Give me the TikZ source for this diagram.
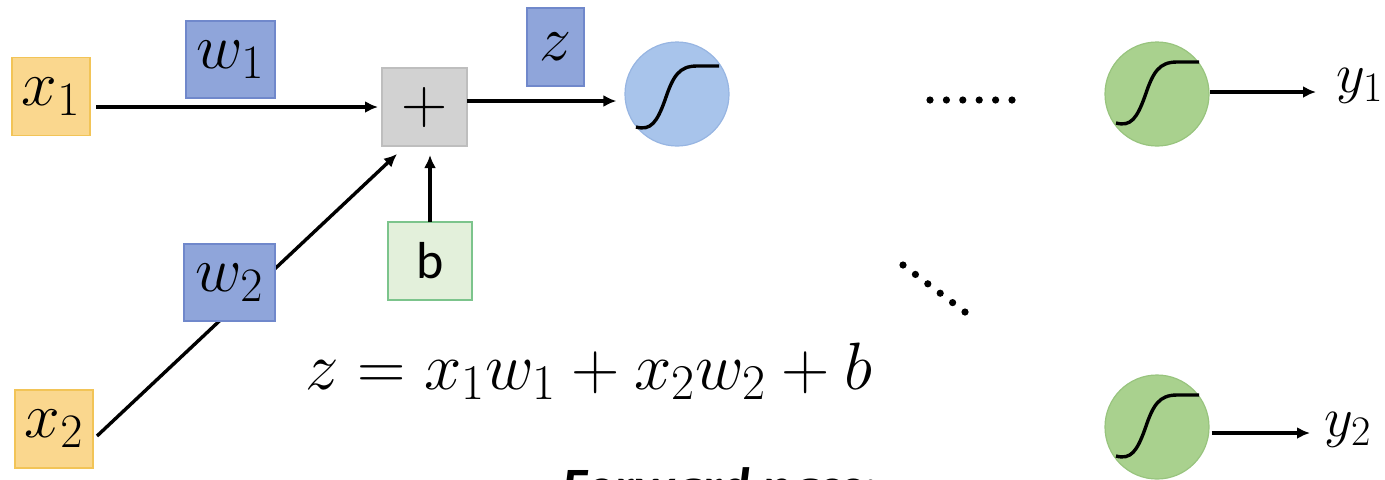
\RequirePackage{fix-cm}
\documentclass[tikz,border=0pt]{standalone}
\usepackage{fontspec}
\newfontfamily\carlito{Carlito}
\usetikzlibrary{arrows.meta,calc}
\DeclareMathSizes{32}{32}{24}{18}
\DeclareMathSizes{28}{28}{21}{16}
\DeclareMathSizes{33.5}{33.5}{25}{19}
\definecolor{xfill}{HTML}{FAD78E}
\definecolor{xborder}{HTML}{F2C457}
\definecolor{wfill}{HTML}{8FA5DA}
\definecolor{wborder}{HTML}{7088CB}
\definecolor{pfill}{HTML}{D2D2D2}
\definecolor{pborder}{HTML}{BEBEBE}
\definecolor{bfill}{HTML}{E3F0DB}
\definecolor{bborder}{HTML}{7CC48C}
\definecolor{sfill}{HTML}{A8C4EB}
\definecolor{sborder}{HTML}{97B5E2}
\definecolor{gfill}{HTML}{A9D18E}
\definecolor{gborder}{HTML}{98C47E}
\tikzset{
  lab/.style={inner sep=0pt, outer sep=0pt, line width=0.6pt, font=\fontsize{32}{36}\selectfont},
  xbox/.style={lab, fill=xfill, draw=xborder, minimum width=39pt, minimum height=39pt},
  wbox/.style={lab, fill=wfill, draw=wborder, minimum height=38.5pt},
  pbox/.style={lab, fill=pfill, draw=pborder, minimum width=42.5pt, minimum height=39pt},
  bbox/.style={lab, fill=bfill, draw=bborder, minimum width=42pt, minimum height=39pt, font=\carlito\fontsize{26}{30}\selectfont},
  neuron/.style={circle, inner sep=0pt, minimum size=52pt, line width=0.6pt},
  outlab/.style={inner sep=0pt, font=\fontsize{28}{32}\selectfont},
  arr/.style={-{Latex[length=6.5pt,width=6pt]}, line width=1.7pt},
  sigc/.pic={\draw[line width=1.7pt] (-41,33) .. controls (-26,37) and (-20,28) .. (-12,6) .. controls (-4,-18) and (2,-28) .. (20,-28) -- (42,-28);},
  dotc/.style={fill=black}
}
\begin{document}
\begin{tikzpicture}[x=0.5pt,y=-0.5pt]
\useasboundingbox (0,0) rectangle (1385,479);
\clip (0,0) rectangle (1385,479);
% boxes
\node[xbox] (x1) at (51,96.5) {$x_1$};
\node[wbox, minimum width=44.5pt] (w1) at (230.5,59.5) {$w_1$};
\node[pbox] (plus) at (424.5,107) {$+$};
\node[wbox, minimum width=28.5pt, minimum height=39pt] (zb) at (555.5,47) {$z$};
\node[bbox] (b) at (430,261) {b};
\node[xbox] (x2) at (54,429) {$x_2$};
% neurons
\node[neuron, fill=sfill, draw=sborder] (sig) at (677,94) {};
\node[neuron, fill=gfill, draw=gborder] (g1) at (1157,94) {};
\node[neuron, fill=gfill, draw=gborder] (g2) at (1157,427) {};
\pic at (sig) {sigc};
\pic at ($(g1)+(0,-4)$) {sigc};
\pic at ($(g2)+(0,-4)$) {sigc};
% outputs
\node[outlab, anchor=west] (y1) at (1336,86) {$y_1$};
\node[outlab, anchor=west] (y2) at (1324,430) {$y_2$};
% connectors
\draw[arr, shorten <=3pt, shorten >=2pt] (x1.east |- plus.west) -- (plus.west);
\draw[arr] ($(x2.east)+(4,7)$) -- ($(plus.south west)+(15,8)$);
\node[wbox, minimum width=45.5pt] (w2) at (229.5,282.5) {$w_2$};
\draw[arr, shorten >=4.5pt] (b.north) -- (b.north |- plus.south);
\coordinate (p1) at ($(plus.east)+(0,-6)$);
\draw[arr, shorten >=4pt] (p1) -- (p1 -| sig.west);
\coordinate (a1) at ($(g1.east)+(0,-2)$);
\draw[arr, shorten >=10pt] (a1) -- (a1 -| y1.west);
\coordinate (a2) at ($(g2.east)+(2,6)$);
\draw[arr, shorten >=7pt] (a2) -- (a2 -| y2.west);
% dots
\foreach \i in {0,...,5} \fill[dotc] (930+16.4*\i,100) circle (1.8pt);
\foreach \i in {0,...,5} \fill[dotc] (903+12.4*\i,265+9.4*\i) circle (1.8pt);
% equation
\node[anchor=base west, inner sep=0pt, font=\fontsize{33.5}{38}\selectfont] (eq) at (305,389) {$z=x_1w_1+x_2w_2+b$};
\node[anchor=base west, inner sep=0pt, font=\carlito\bfseries\itshape\fontsize{27}{32}\selectfont] (fp) at (562,505) {Forward pass:};
\end{tikzpicture}
\end{document}
